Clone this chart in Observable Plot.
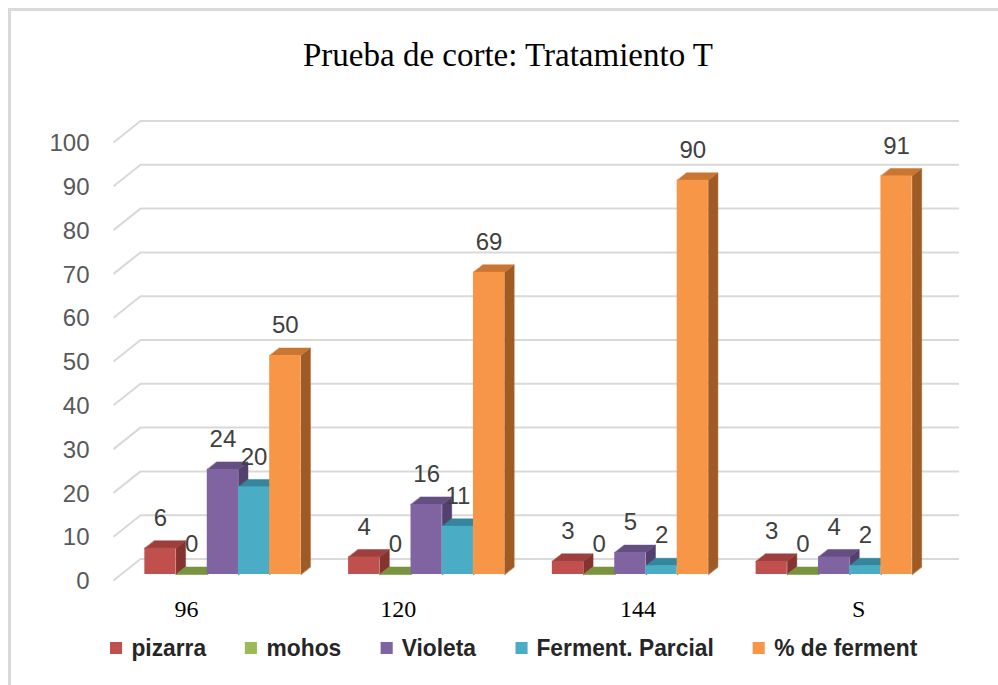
<!DOCTYPE html>
<html><head><meta charset="utf-8">
<script src="https://cdn.jsdelivr.net/npm/d3@7"></script>
<script src="https://cdn.jsdelivr.net/npm/@observablehq/plot@0.6"></script>
<style>
body{margin:0;background:#fff;}
#wrap{position:relative;width:998px;height:685px;overflow:hidden;background:#fff;}
#frame{position:absolute;left:8px;top:8px;width:1100px;height:800px;border-left:3px solid #d9d9d9;border-top:3px solid #d9d9d9;}
#title{position:absolute;left:0;top:35px;width:1016px;text-align:center;font-family:"Liberation Serif",serif;font-size:33px;line-height:40px;color:#000;}
#chart{position:absolute;left:0;top:0;}
#legend{position:absolute;left:110px;top:634px;display:flex;align-items:center;gap:42px;font-family:"Liberation Sans",sans-serif;font-weight:bold;font-size:24.5px;line-height:28px;color:#262626;white-space:nowrap;transform:scaleX(0.93);transform-origin:0 50%;}
.item{display:flex;align-items:center;gap:10px;}
.sw{width:13px;height:12px;display:inline-block;}
</style></head>
<body>
<div id="wrap">
  <div id="frame"></div>
  <div id="title"></div>
  <div id="chart"></div>
  <div id="legend"></div>
</div>
<script>
// ---- data ----
const title = "Prueba de corte: Tratamiento T";
const categories = ["96", "120", "144", "S"];
const seriesNames = ["pizarra", "mohos", "Violeta", "Ferment. Parcial", "% de ferment"];
const pizarra = [6, 4, 3, 3];
const mohos = [0, 0, 0, 0];
const violeta = [24, 16, 5, 4];
const fermentParcial = [20, 11, 2, 2];
const pctFerment = [50, 69, 90, 91];
const yTicks = [0, 10, 20, 30, 40, 50, 60, 70, 80, 90, 100];

// ---- styles ----
const frontColors = ["#c0504d", "#9bbb59", "#8064a2", "#4bacc6", "#f79646"];
const topColors   = ["#9d3f3c", "#77933c", "#644e82", "#35869c", "#c87631"];
const sideColors  = ["#84332f", "#627c30", "#53406d", "#2c7183", "#a05b25"];
const catShift = [-29, -21, 15, 32];

const seriesValues = [pizarra, mohos, violeta, fermentParcial, pctFerment];

const W = 998, H = 630, mL = 113, mR = 70, mT = 142, mB = 50;
const xUnit = (W - mL - mR) / categories.length;
const yUnit = (H - mT - mB) / 100;
const px = v => v / xUnit;
const py = v => v / yUnit;
const floorDX = 27, floorDY = 21.5;
const frontDX = 7.5, frontDY = 6;
const depthDX = 9.5, depthDY = 7.5;
const barW = 0.1532, pad = (1 - seriesNames.length * barW) / 2;

const bars = [];
categories.forEach((c, i) => {
  seriesValues.forEach((vals, j) => {
    const x1 = i + pad + j * barW;
    bars.push({cat: c, series: seriesNames[j], j, x1, x2: x1 + barW, v: vals[i]});
  });
});

const sides = [], tops = [];
bars.forEach((b, k) => {
  const ddx = px(depthDX), ddy = py(depthDY);
  const sc = sideColors[b.j], tc = topColors[b.j];
  [[b.x2, 0], [b.x2, b.v], [b.x2 + ddx, b.v + ddy], [b.x2 + ddx, ddy]].forEach(([x, y]) =>
    sides.push({id: "s" + k, x, y, c: sc}));
  [[b.x1, b.v], [b.x2, b.v], [b.x2 + ddx, b.v + ddy], [b.x1 + ddx, b.v + ddy]].forEach(([x, y]) =>
    tops.push({id: "t" + k, x, y, c: tc}));
});

const grid = "#d9d9d9";
const chart = Plot.plot({
  width: W, height: H,
  marginLeft: mL, marginRight: mR, marginTop: mT, marginBottom: mB,
  x: {type: "linear", domain: [0, categories.length], axis: null},
  y: {type: "linear", domain: [0, 100], axis: null},
  color: {type: "identity"},
  style: {fontFamily: "Liberation Sans, sans-serif", background: "transparent", overflow: "visible"},
  marks: [
    Plot.ruleY(yTicks, {y: d => d + py(floorDY), x1: px(floorDX), x2: categories.length + px(31), stroke: grid, strokeWidth: 2}),
    Plot.link(yTicks, {x1: 0, y1: d => d, x2: px(floorDX), y2: d => d + py(floorDY), stroke: grid, strokeWidth: 2}),
    Plot.text(yTicks, {x: 0, y: d => d, text: d => String(d), textAnchor: "end", dx: -24, dy: 1, fontSize: 24, fill: "#595959"}),
    Plot.line(sides, {x: "x", y: "y", z: "id", fill: "c", stroke: "c", strokeWidth: 0.5, curve: "linear-closed", dx: frontDX, dy: -frontDY}),
    Plot.line(tops, {x: "x", y: "y", z: "id", fill: "c", stroke: "c", strokeWidth: 0.5, curve: "linear-closed", dx: frontDX, dy: -frontDY}),
    Plot.rect(bars, {x1: "x1", x2: "x2", y1: 0, y2: "v", fill: d => frontColors[d.j], dx: frontDX, dy: -frontDY}),
    Plot.text(bars, {x: d => (d.x1 + d.x2) / 2, y: "v", text: d => String(d.v), dx: frontDX, dy: -frontDY - 30, fontSize: 24, fill: "#404040"}),
    Plot.text(categories, {x: (d, i) => i + 0.5 + px(catShift[i]), y: 0, dy: 29, text: d => d, fontFamily: "Liberation Serif, serif", fontSize: 24, fill: "#000"})
  ]
});
document.getElementById("chart").appendChild(chart);
document.getElementById("title").textContent = title;

const legend = document.getElementById("legend");
seriesNames.forEach((name, j) => {
  const it = document.createElement("div");
  it.className = "item";
  const sw = document.createElement("span");
  sw.className = "sw";
  sw.style.background = frontColors[j];
  const tx = document.createElement("span");
  tx.textContent = name;
  it.appendChild(sw); it.appendChild(tx);
  legend.appendChild(it);
});
</script>
</body></html>
